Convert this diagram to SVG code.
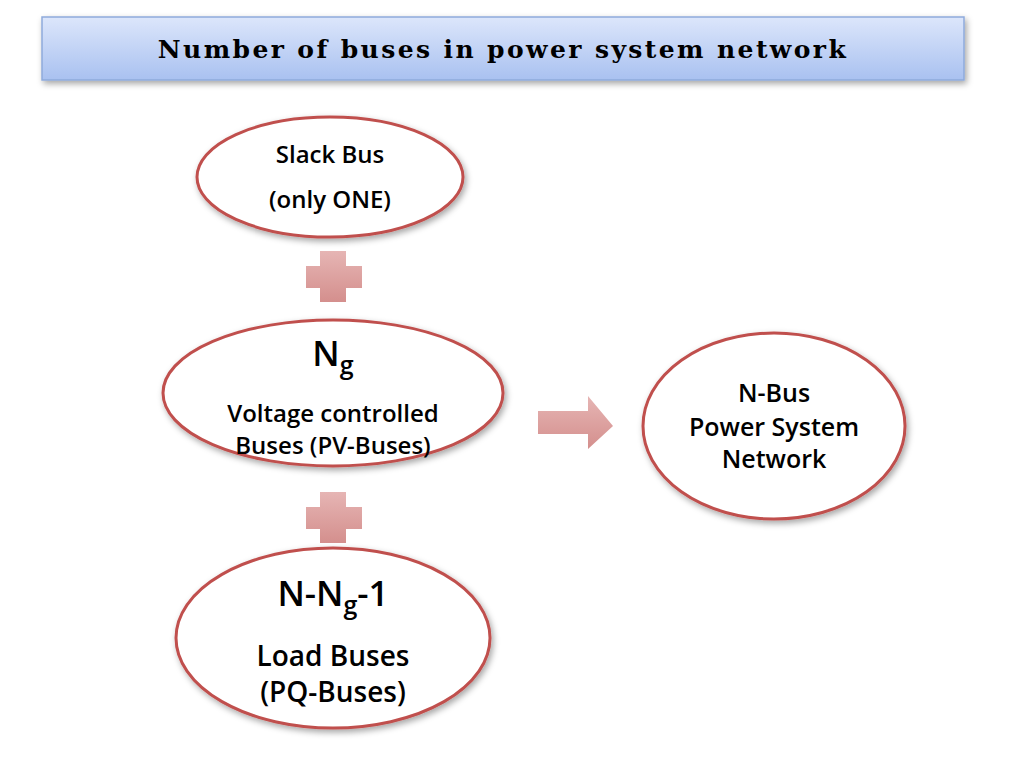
<svg xmlns="http://www.w3.org/2000/svg" width="1024" height="768" viewBox="0 0 1024 768">
<defs>
<linearGradient id="tg" x1="0" y1="0" x2="0" y2="1"><stop offset="0" stop-color="#dce6fb"/><stop offset="1" stop-color="#a9c1f0"/></linearGradient>
<linearGradient id="pg" x1="0" y1="0" x2="0" y2="1"><stop offset="0" stop-color="#e6b5b4"/><stop offset="1" stop-color="#d48f8d"/></linearGradient>
<filter id="sh" x="-20%" y="-20%" width="140%" height="140%"><feDropShadow dx="2" dy="3" stdDeviation="3" flood-color="#000" flood-opacity="0.35"/></filter>
</defs>
<style>
.el{fill:#fff;stroke:#c0504d;stroke-width:3;filter:url(#sh)}
.t{font-family:"Open Sans","Liberation Sans",Arial,sans-serif;font-weight:600;fill:#000;text-anchor:middle}
.p{fill:url(#pg)}
</style>
<rect width="1024" height="768" fill="#fff"/>
<g id="title"><rect x="42" y="17" width="922" height="63" fill="url(#tg)" stroke="#8eaadb" stroke-width="1.5" filter="url(#sh)"/>
<text x="503" y="58" font-family="'DejaVu Serif','Liberation Serif',serif" font-weight="bold" font-size="25" text-anchor="middle" letter-spacing="2.4">Number of buses in power system network</text></g>
<g id="slack"><ellipse class="el" cx="330" cy="177" rx="133" ry="60"/>
<text class="t" x="330" y="163" font-size="24">Slack Bus</text>
<text class="t" x="330" y="208" font-size="24">(only ONE)</text></g>
<g id="pv"><ellipse class="el" cx="333" cy="393" rx="170" ry="73"/>
<text class="t" x="333" y="366" font-size="35">N<tspan font-size="25" dy="8">g</tspan></text>
<text class="t" x="333" y="422" font-size="24">Voltage controlled</text>
<text class="t" x="333" y="454" font-size="24">Buses (PV-Buses)</text></g>
<g id="pq"><ellipse class="el" cx="333" cy="638" rx="157" ry="90"/>
<text class="t" x="333" y="606" font-size="35">N-N<tspan font-size="25" dy="8">g</tspan><tspan dy="-8">-1</tspan></text>
<text class="t" x="333" y="666" font-size="28">Load Buses</text>
<text class="t" x="333" y="702" font-size="28">(PQ-Buses)</text></g>
<g id="net"><ellipse class="el" cx="774" cy="426" rx="131" ry="93"/>
<text class="t" x="774" y="402" font-size="25">N-Bus</text>
<text class="t" x="774" y="436" font-size="25">Power System</text>
<text class="t" x="774" y="468" font-size="25">Network</text></g>
<g id="connectors">
<path class="p" d="M320,251h26v15h16v22h-16v14h-26v-14h-14v-22h14z"/>
<path class="p" d="M320,492h26v15h16v22h-16v14h-26v-14h-14v-22h14z"/>
<path class="p" d="M538,411h50v-15l25,30l-25,23v-15h-50z"/>
</g>
</svg>
